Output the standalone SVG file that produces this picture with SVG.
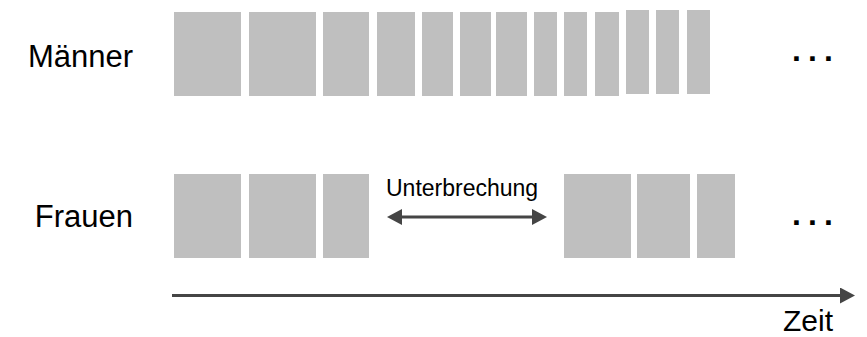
<svg xmlns="http://www.w3.org/2000/svg" width="867" height="337" viewBox="0 0 867 337">
  <style>
    .bar { fill: #BFBFBF; }
    .lbl { font-family: "Liberation Sans", Arial, sans-serif; fill: #000; }
    .conn { stroke: #454545; stroke-width: 3; fill: none; }
    .dots { font-family: "Liberation Sans", Arial, sans-serif; font-weight: bold; font-size: 32px; letter-spacing: 7.1px; fill: #000; }
  </style>
  <defs>
    <marker id="head" markerUnits="userSpaceOnUse" markerWidth="16" markerHeight="16" refX="0" refY="8" orient="auto-start-reverse" viewBox="0 0 16 16">
      <path d="M0,0 L15,8 L0,16 Z" fill="#454545"/>
    </marker>
  </defs>
  <rect width="867" height="337" fill="#fff"/>

  <g id="maenner">
    <text class="lbl" x="133" y="67" font-size="31" text-anchor="end">Männer</text>
    <rect class="bar" x="174" y="12" width="67" height="84"/>
    <rect class="bar" x="249" y="12" width="67" height="84"/>
    <rect class="bar" x="323" y="12" width="46" height="84"/>
    <rect class="bar" x="377" y="12" width="38" height="84"/>
    <rect class="bar" x="422" y="12" width="31" height="84"/>
    <rect class="bar" x="460" y="12" width="31" height="84"/>
    <rect class="bar" x="496" y="12" width="31" height="84"/>
    <rect class="bar" x="534" y="12" width="23" height="84"/>
    <rect class="bar" x="564" y="12" width="23" height="84"/>
    <rect class="bar" x="595" y="12" width="24" height="84"/>
    <rect class="bar" x="626" y="10" width="23" height="84"/>
    <rect class="bar" x="656" y="10" width="23" height="84"/>
    <rect class="bar" x="687" y="10" width="23" height="84"/>
    <text class="dots" x="792" y="61">...</text>
  </g>

  <g id="frauen">
    <text class="lbl" x="133" y="227" font-size="31" text-anchor="end">Frauen</text>
    <rect class="bar" x="174" y="174" width="67" height="84"/>
    <rect class="bar" x="249" y="174" width="67" height="84"/>
    <rect class="bar" x="323" y="174" width="46" height="84"/>
    <rect class="bar" x="564" y="174" width="67" height="84"/>
    <rect class="bar" x="637" y="174" width="53" height="84"/>
    <rect class="bar" x="697" y="174" width="38" height="84"/>
    <text class="dots" x="792" y="225">...</text>
  </g>

  <g id="unterbrechung">
    <text class="lbl" x="386" y="196" font-size="23">Unterbrechung</text>
  </g>

  <g id="zeit">
    <text class="lbl" x="783" y="331" font-size="30">Zeit</text>
  </g>

  <g id="connectors">
    <line class="conn" x1="402" y1="217" x2="532" y2="217" marker-start="url(#head)" marker-end="url(#head)"/>
    <line class="conn" x1="172" y1="295.5" x2="840" y2="295.5" marker-end="url(#head)"/>
  </g>
</svg>
